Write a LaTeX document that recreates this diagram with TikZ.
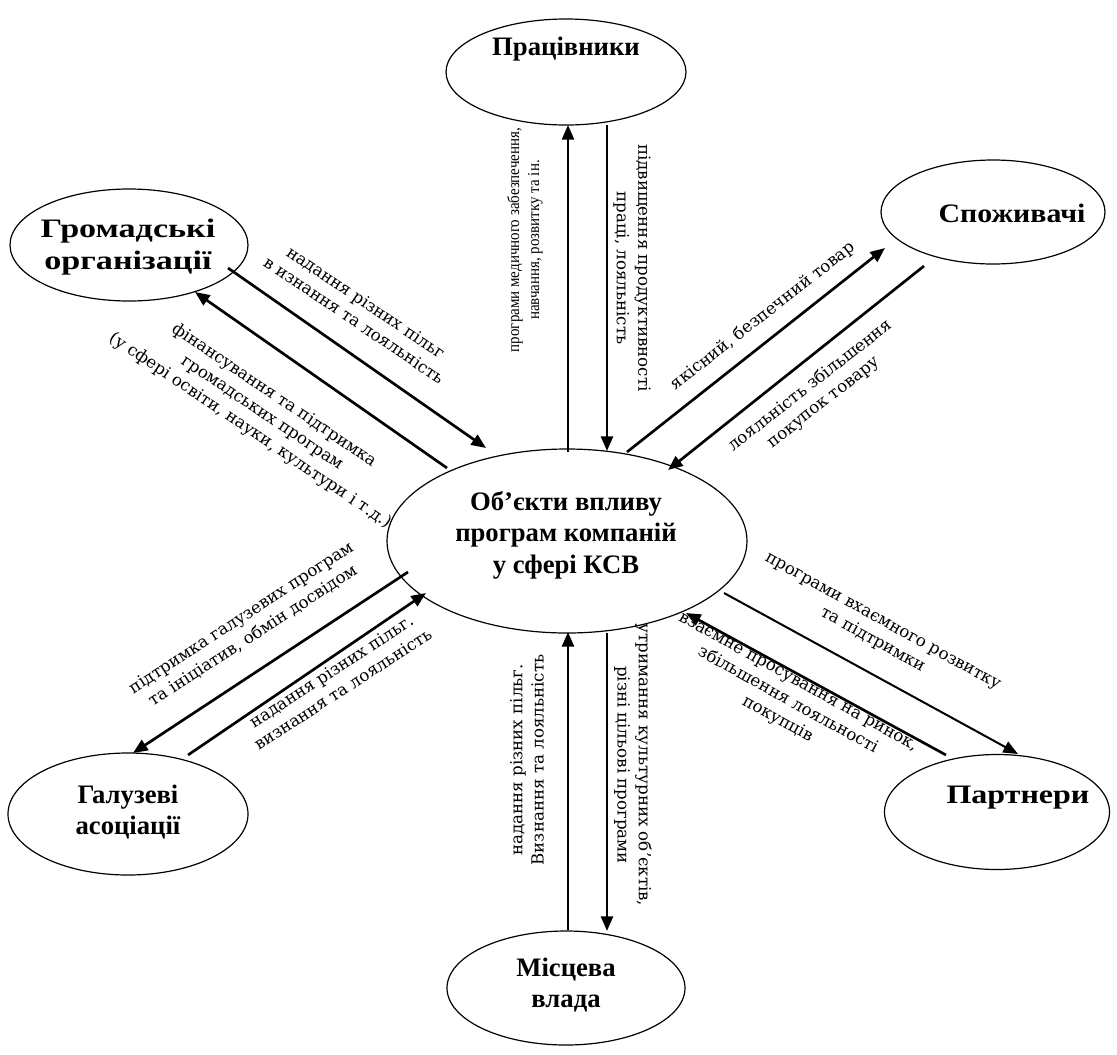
\documentclass[tikz,border=0pt]{standalone}
\usepackage{fontspec}
\setmainfont{Liberation Serif}
\newfontfamily\centfont{DejaVu Serif}
\newfontfamily\narrowfont[FakeStretch=0.9]{Liberation Serif}
\usetikzlibrary{arrows.meta,shapes.geometric}
\begin{document}
\begin{tikzpicture}[x=0.75pt,y=-0.75pt,
  ent/.style={draw, ellipse, line width=0.9pt, inner sep=0pt},
  ttl/.style={font=\fontsize{20}{23.5}\selectfont\bfseries, align=center, inner sep=0pt},
  arr/.style={line width=2pt, -{Triangle[length=11pt,width=9pt]}},
  lbc/.style={font=\centfont\fontsize{12.5}{16}\selectfont, align=center, inner sep=0pt},
  lbt/.style={font=\narrowfont\fontsize{12.5}{15}\selectfont, align=center, inner sep=0pt}]
\useasboundingbox (0,0) rectangle (1117,1054);

% ellipses
\node[ent, minimum width=270pt, minimum height=138pt] (centre) at (567,541) {};
\node[ent, minimum width=180pt, minimum height=79.5pt] (prac) at (566,72) {};
\node[ent, minimum width=178.5pt, minimum height=84pt] (hrom) at (129,245) {};
\node[ent, minimum width=168pt, minimum height=78pt] (spoz) at (993,212) {};
\node[ent, minimum width=180pt, minimum height=91.5pt] (haluz) at (128,814) {};
\node[ent, minimum width=168.75pt, minimum height=86.25pt] (partn) at (997,812) {};
\node[ent, minimum width=178.5pt, minimum height=85.5pt] (misc) at (566,988) {};

% titles
\node[ttl] (centre-t) at (566,535) {Об’єкти впливу\\програм компаній\\у сфері КСВ};
\node[ttl] (prac-t) at (566,49) {Працівники};
\node[ttl, xscale=1.28, transform shape] (hrom-t) at (128,247) {Громадські\\організації};
\node[ttl, xscale=1.12, transform shape] (spoz-t) at (1012,213) {Споживачі};
\node[ttl] (haluz-t) at (128,812) {Галузеві\\асоціації};
\node[ttl, xscale=1.2, transform shape] (partn-t) at (1018,798) {Партнери};
\node[ttl] (misc-t) at (566,985) {Місцева\\влада};

% connector end points
\coordinate (a1s) at (568,452); \coordinate (a1e) at (568,125);
\coordinate (a2s) at (607,125); \coordinate (a2e) at (607,451);
\coordinate (a3s) at (627,452); \coordinate (a3e) at (885,248);
\coordinate (a4s) at (924,266); \coordinate (a4e) at (668,470);
\coordinate (a5s) at (447,468); \coordinate (a5e) at (195,292);
\coordinate (a6s) at (228,268); \coordinate (a6e) at (486,448);
\coordinate (a7s) at (408,572); \coordinate (a7e) at (133,753);
\coordinate (a8s) at (188,755); \coordinate (a8e) at (426,593);
\coordinate (a9s) at (568,930); \coordinate (a9e) at (568,632);
\coordinate (a10s) at (607,633); \coordinate (a10e) at (607,931);
\coordinate (a11s) at (724,593); \coordinate (a11e) at (1018,754);
\coordinate (a12s) at (946,755); \coordinate (a12e) at (686,613);

\draw[arr] (a1s) -- (a1e);
\draw[arr] (a2s) -- (a2e);
\draw[arr] (a3s) -- (a3e);
\draw[arr] (a4s) -- (a4e);
\draw[arr] (a5s) -- (a5e);
\draw[arr] (a6s) -- (a6e);
\draw[arr] (a7s) -- (a7e);
\draw[arr] (a8s) -- (a8e);
\draw[arr] (a9s) -- (a9e);
\draw[arr] (a10s) -- (a10e);
\draw[arr, line width=1.5pt] (a11s) -- (a11e);
\draw[arr] (a12s) -- (a12e);

% labels
\node[lbt, rotate=90] (t1) at (525,240) {програми медичного забезпечення,\\навчання, розвитку та ін.};
\node[lbc, rotate=-90] (t2) at (632,268) {підвищення продуктивності\\праці, лояльність};
\node[lbc, rotate=38] (t3) at (763,316) {якісний, безпечний товар};
\node[lbc, rotate=38] (t4) at (817,394) {лояльність збільшення\\покупок товару};
\node[lbc, rotate=-34] (t5) at (360,311) {надання різних пільг\\в изнання та лояльність};
\node[lbc, rotate=-34] (t6) at (262,413) {фінансування та підтримка\\громадських програм\\(у сфері освіти, науки, культури і т.д.)};
\node[lbc, rotate=33] (t7) at (247,627) {підтримка галузевих програм\\та ініціатив, обмін досвідом};
\node[lbc, rotate=33] (t8) at (337,680) {надання різних пільг.\\визнання та лояльність};
\node[lbc, rotate=90] (t9) at (527,760) {надання різних пільг.\\Визнання та лояльність};
\node[lbc, rotate=-90] (t10) at (633,765) {утримання культурних об’єктів,\\різні цільові програми};
\node[lbc, rotate=-29] (t11) at (877,632) {програми вхаємного розвитку\\та підтримки};
\node[lbc, rotate=-29] (t12) at (787,702) {взаємне просування на ринок,\\збільшення лояльності\\покупців};
\end{tikzpicture}
\end{document}
